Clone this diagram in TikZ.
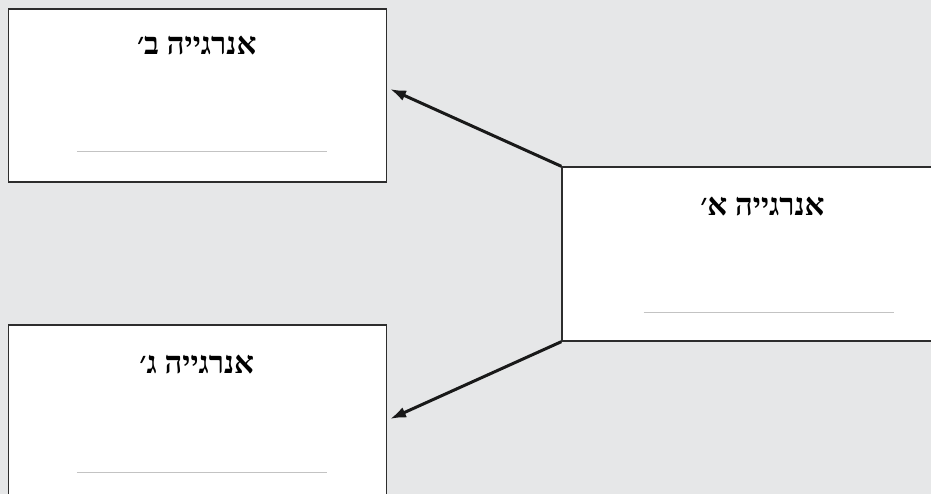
\documentclass[tikz,border=0pt]{standalone}
\usepackage{fontspec}
\newfontfamily\hebfont[Script=Hebrew]{Liberation Serif Bold}
\TeXXeTstate=1
\usetikzlibrary{arrows.meta,calc}
\definecolor{panelgray}{RGB}{230,231,232}
\definecolor{rulegray}{RGB}{195,195,195}
\definecolor{edgegray}{RGB}{45,45,45}

\begin{document}
\begin{tikzpicture}[x=1pt,y=-1pt,
box/.style={draw=edgegray,line width=1.4pt,fill=white,inner sep=0pt,
minimum width=378pt,minimum height=174pt},
title/.style={font=\hebfont\fontsize{31}{35}\selectfont,inner sep=0pt},
rule/.style={draw=rulegray,line width=1pt},
arrow/.style={-{Latex[length=16pt,width=11pt]},line width=3pt,draw=black!90}]
\fill[panelgray] (0,0) rectangle (931,494);
\useasboundingbox (0,0) rectangle (931,494);
\node[box,minimum height=173pt] (b) at (197.75,95.5) {};
\node[box,minimum width=413pt] (a) at (768.5,254) {};
\node[box] (g) at (197.75,412) {};
\node[title] (bt) at ($(b.north)+(-1,37)$) {\beginR אנרגייה ב׳\endR};
\node[title] (at) at ($(a.north)+(-6,40)$) {\beginR אנרגייה א׳\endR};
\node[title] (gt) at ($(g.north)+(-1,40)$) {\beginR אנרגייה ג׳\endR};
\draw[rule] ($(b.south)+(-121,-31)$) -- ($(b.south)+(129,-31)$);
\draw[rule] ($(a.south)+(-125,-29)$) -- ($(a.south)+(125,-29)$);
\draw[rule] ($(g.south)+(-121,-27)$) -- ($(g.south)+(129,-27)$);
\coordinate (bin) at (390,89);
\coordinate (gin) at (390,419);
\draw[arrow] (a.north west) -- (bin);
\draw[arrow] (a.south west) -- (gin);
\end{tikzpicture}
\end{document}
